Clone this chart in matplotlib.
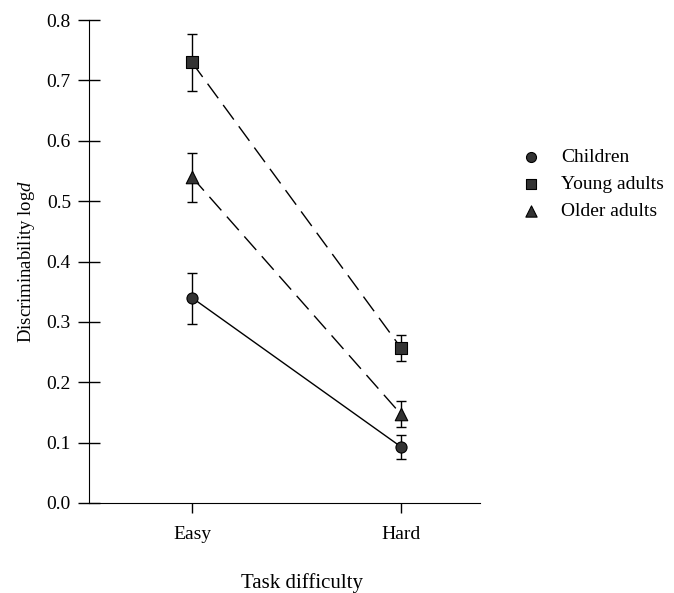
import matplotlib
matplotlib.use("Agg")
import matplotlib.pyplot as plt
import numpy as np

plt.rcParams['font.family'] = ['Liberation Serif', 'DejaVu Serif']
plt.rcParams['mathtext.fontset'] = 'custom'
plt.rcParams['mathtext.it'] = 'Liberation Serif:italic'
plt.rcParams['mathtext.rm'] = 'Liberation Serif'

categories = ["Easy", "Hard"]
groups = ["Children", "Young adults", "Older adults"]
children = [0.34, 0.093]
children_lo = [0.297, 0.072]
children_hi = [0.381, 0.113]
young = [0.73, 0.257]
young_lo = [0.683, 0.235]
young_hi = [0.777, 0.279]
older = [0.54, 0.147]
older_lo = [0.498, 0.125]
older_hi = [0.580, 0.169]
yticks = [0.0, 0.1, 0.2, 0.3, 0.4, 0.5, 0.6, 0.7, 0.8]

fig = plt.figure(figsize=(6.74, 5.93), dpi=100)
ax = fig.add_axes([0.132, 0.152, 0.580, 0.814])

x = np.arange(len(categories))
series = [
    (children, children_lo, children_hi, 'o', '-', 8),
    (young, young_lo, young_hi, 's', (0, (13, 6)), 8),
    (older, older_lo, older_hi, '^', (0, (13, 6)), 9),
]
handles = []
for (vals, lo, hi, mk, ls, ms), name in zip(series, groups):
    vals = np.array(vals); lo = np.array(lo); hi = np.array(hi)
    ax.plot(x, vals, color='black', linestyle=ls, linewidth=1.0, zorder=2)
    ax.errorbar(x, vals, yerr=[vals - lo, hi - vals], fmt='none', ecolor='black',
                elinewidth=1.0, capsize=3.6, capthick=1.0, zorder=3)
    h = ax.scatter(x, vals, marker=mk, s=ms**2, facecolor='#333333', edgecolor='black',
                   linewidth=0.8, zorder=4, label=name)
    handles.append(h)

ax.set_xlim(-0.493, 1.378)
ax.set_ylim(0, 0.8)
ax.set_xticks(x)
ax.set_xticklabels(categories)
ax.set_yticks(yticks)
ax.set_yticklabels([f"{v:.1f}" for v in yticks])
ax.spines['top'].set_visible(False)
ax.spines['right'].set_visible(False)
ax.tick_params(axis='y', direction='inout', length=16, width=1.0, labelsize=14, pad=5)
ax.tick_params(axis='x', direction='out', length=7, width=1.0, labelsize=14, pad=10)
ax.set_ylabel(r"Discriminability log$d$", fontsize=13.5)
ax.yaxis.set_label_coords(-0.132, 0.5)
ax.set_xlabel("Task difficulty", fontsize=15, va='center')
ax.xaxis.set_label_coords(0.545, -0.166)

leg = ax.legend(handles=handles, labels=groups, loc='upper left',
                bbox_to_anchor=(0.7735, 0.7504), bbox_transform=fig.transFigure,
                frameon=False, fontsize=14, borderpad=0, borderaxespad=0,
                handlelength=1.0, handletextpad=1.03, labelspacing=0.5,
                scatterpoints=1, markerscale=0.9)

fig.savefig("out.png", dpi=100)
